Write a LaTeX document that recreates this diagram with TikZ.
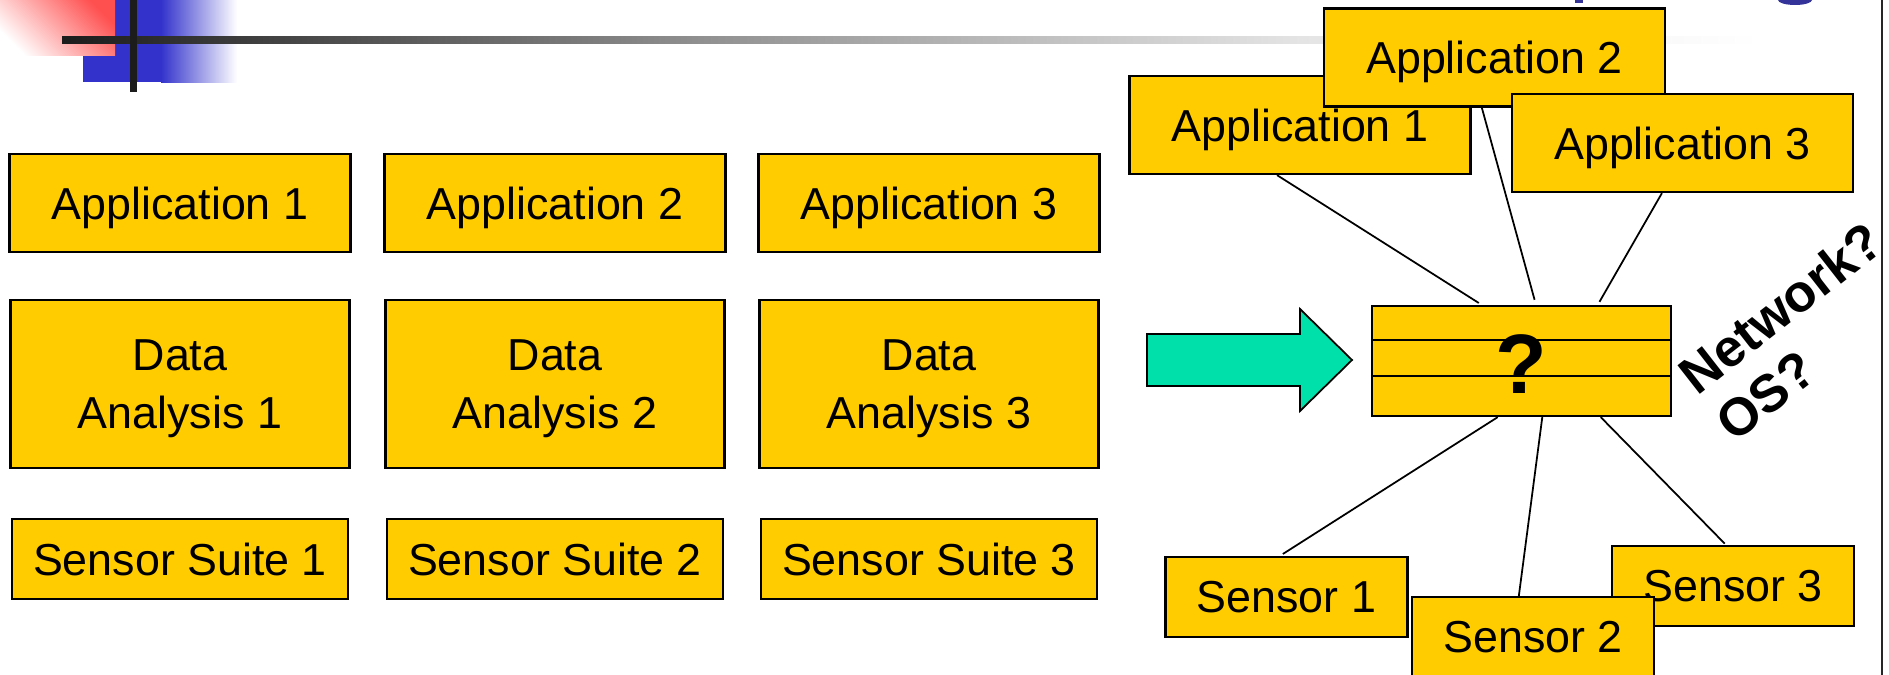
\documentclass[tikz,border=0pt]{standalone}
\usepackage{fontspec}
\setmainfont{Liberation Sans}
\usetikzlibrary{calc}

\definecolor{boxgold}{RGB}{255,204,0}
\definecolor{arrowgreen}{RGB}{0,224,170}
\definecolor{barblack}{RGB}{28,28,28}
\definecolor{barmid}{RGB}{144,144,144}
\definecolor{barlight}{RGB}{228,228,228}
\definecolor{deckblue}{RGB}{51,51,204}
\definecolor{deckred}{RGB}{255,80,80}
\definecolor{titleblue}{RGB}{51,51,153}

\tikzset{
  goldbox/.style={draw=black, line width=1.3pt, fill=boxgold, inner sep=0pt,
    text depth=0pt, align=center, font=\fontsize{25.5}{33.4}\selectfont},
  appbox/.style={goldbox, minimum width=6.82cm, minimum height=1.96cm},
  databox/.style={goldbox, minimum width=6.78cm, minimum height=3.36cm},
  suitebox/.style={goldbox, minimum width=6.72cm, minimum height=1.6cm},
  sensbox/.style={goldbox, minimum width=4.84cm, minimum height=1.6cm},
  bigarrow/.style={fill=arrowgreen, draw=black, line width=1pt},
  link/.style={line width=1pt},
}

\begin{document}
\begin{tikzpicture}[x=0.02cm, y=-0.02cm]
    \useasboundingbox (0,0) rectangle (1889,675);

    % corner ornament and title rule
    \fill[deckblue] (83,0) rectangle (161,82);
    \shade[left color=deckblue, right color=white] (161,0) rectangle (237,83);
    \shade[top color=deckred, bottom color=white, shading angle=-45] (0,0) rectangle (115,56);
    \shade[left color=barblack, right color=barmid] (62,37) rectangle (700,44);
    \shade[left color=barmid, right color=barlight] (700,37) rectangle (1300,44);
    \shade[left color=barlight, right color=white] (1300,37) rectangle (1760,44);
    \fill[barblack] (130,0) rectangle (137,92);
    \fill[titleblue] (1575,-5) rectangle (1583,3);
    \fill[titleblue] (1795,0) ellipse [x radius=17, y radius=5];
    \draw[line width=1.2pt, black!85] (1882,0) -- (1882,675);

    % one stack per application
    \foreach \i/\x in {1/180, 2/555, 3/929} {
        \node[appbox] (app\i) at (\x,203) {Application \i};
        \node[databox] (data\i) at (\x,384) {Data\\Analysis \i};
        \node[suitebox] (suite\i) at (\x,559) {Sensor Suite \i};
    }

    % big arrow
    \filldraw[bigarrow] (1147,334) -- (1300,334) -- (1300,309) -- (1352,360)
        -- (1300,411) -- (1300,386) -- (1147,386) -- cycle;

    % shared layer in the middle
    \node[goldbox, minimum width=5.98cm, minimum height=2.2cm] (stack) at (1521.5,361) {};
    \draw[line width=1.3pt] ($(stack.north west)!0.31!(stack.south west)$) -- ($(stack.north east)!0.31!(stack.south east)$);
    \draw[line width=1.3pt] ($(stack.north west)!0.636!(stack.south west)$) -- ($(stack.north east)!0.636!(stack.south east)$);
    \node[font=\bfseries\fontsize{48}{48}\selectfont, inner sep=0pt] (quest) at (1521,364) {?};

    \node[appbox] (napp1) at (1300,125) {Application 1};
    \node[appbox] (napp2) at (1494.5,57.5) {Application 2};
    \node[appbox] (napp3) at (1682.5,143) {Application 3};

    \node[sensbox] (sens1) at (1286.5,597) {Sensor 1};
    \node[sensbox] (sens3) at (1733,586) {Sensor 3};
    \node[sensbox] (sens2) at (1533,637) {Sensor 2};

    % links to the shared layer
    \draw[link, shorten >=2pt] ($(napp1.south west)!0.433!(napp1.south east)$) -- ($(stack.north west)!0.368!(stack.north east)$);
    \draw[link, shorten >=3pt] ($(napp2.south west)!0.463!(napp2.south east)$) -- ($(stack.north west)!0.548!(stack.north east)$);
    \draw[link, shorten >=2pt] ($(napp3.south west)!0.44!(napp3.south east)$) -- ($(stack.north west)!0.753!(stack.north east)$);
    \draw[link, shorten >=2pt] ($(stack.south west)!0.421!(stack.south east)$) -- ($(sens1.north west)!0.473!(sens1.north east)$);
    \draw[link] ($(stack.south west)!0.569!(stack.south east)$) -- ($(sens2.north west)!0.442!(sens2.north east)$);
    \draw[link, shorten >=1pt] ($(stack.south west)!0.763!(stack.south east)$) -- ($(sens3.north west)!0.471!(sens3.north east)$);

    \node[rotate=38, align=left, inner sep=0pt, font=\bfseries\fontsize{30}{34}\selectfont] (netos) at (1799,331) {Network?\\OS?};
\end{tikzpicture}
\end{document}
